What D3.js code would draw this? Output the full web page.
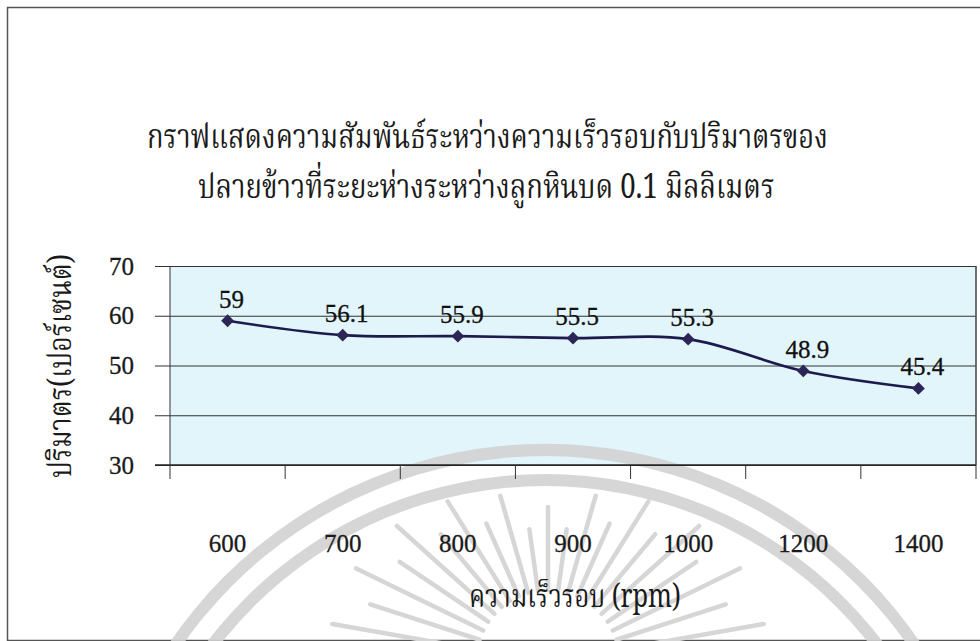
<!DOCTYPE html>
<html>
<head>
<meta charset="utf-8">
<script src="https://cdn.jsdelivr.net/npm/d3@7"></script>
<style>
  html, body { margin: 0; padding: 0; background: #fff; }
  svg { display: block; }
  .num { font-family: "Liberation Serif", "Times New Roman", serif; }
  .thai { font-family: "Noto Serif Thai", "Noto Sans Thai Looped", "Noto Sans Thai", "Loma", sans-serif; }
</style>
</head>
<body>
<svg id="chart" width="980" height="641"></svg>
<script>
// Rotation speed (rpm) and broken-rice volume (%) at 0.1 mm stone gap
const speeds = ["600", "700", "800", "900", "1000", "1200", "1400"];
const volumes = [59, 56.1, 55.9, 55.5, 55.3, 48.9, 45.4];
const yTicks = [30, 40, 50, 60, 70];
const titleLines = [
  "กราฟแสดงความสัมพันธ์ระหว่างความเร็วรอบกับปริมาตรของ",
  "ปลายข้าวที่ระยะห่างระหว่างลูกหินบด 0.1 มิลลิเมตร"
];
const xTitle = "ความเร็วรอบ (rpm)";
const yTitle = "ปริมาตร(เปอร์เซนต์)";

const W = 980, H = 641;
const plot = { left: 170, right: 976, top: 266, bottom: 465 };

const svg = d3.select("#chart");

const x = d3.scaleBand().domain(speeds).range([plot.left, plot.right]).padding(0);
const y = d3.scaleLinear().domain([30, 70]).range([plot.bottom, plot.top]);
const cxOf = s => x(s) + x.bandwidth() / 2;

// outer frame
svg.append("rect")
  .attr("x", 7.5).attr("y", 7.5).attr("width", W + 10).attr("height", H - 8)
  .attr("fill", "#fff").attr("stroke", "#555").attr("stroke-width", 1.5);

// plot background
svg.append("rect")
  .attr("x", plot.left).attr("y", plot.top)
  .attr("width", plot.right - plot.left).attr("height", plot.bottom - plot.top)
  .attr("fill", "#e2f5fb");

// faint seal watermark over the lower part of the page
const seal = svg.append("g").attr("fill", "none").attr("stroke", "#d6d6d6");
const sealCx = 545, sealCy = 898;
[448, 418].forEach(r => {
  seal.append("path")
    .attr("d", d3.arc()({ innerRadius: r - 6, outerRadius: r + 6, startAngle: -Math.PI / 2, endAngle: Math.PI / 2 }))
    .attr("transform", `translate(${sealCx},${sealCy})`)
    .attr("fill", "#d2d2d2").attr("stroke", "none").attr("opacity", 0.9);
});
const rayCenter = [548, 662];
d3.range(-80, 81, 8).forEach((deg, i) => {
  const a = deg * Math.PI / 180;
  const r0 = 72, r1 = (i % 2 ? 125 : 155) + 65 * Math.abs(Math.sin(a));
  seal.append("line")
    .attr("x1", rayCenter[0] + r0 * Math.sin(a)).attr("y1", rayCenter[1] - r0 * Math.cos(a))
    .attr("x2", rayCenter[0] + r1 * Math.sin(a)).attr("y2", rayCenter[1] - r1 * Math.cos(a))
    .attr("stroke-width", 4.5).attr("stroke-linecap", "round");
});

// horizontal gridlines with short outer ticks on the left
const yAxis = d3.axisLeft(y).tickValues(yTicks).tickSize(15).tickPadding(21).tickFormat(d3.format("d"));
const yg = svg.append("g").attr("transform", `translate(${plot.left},0)`).call(yAxis)
  .attr("font-family", null).attr("font-size", null);
yg.select(".domain").remove();
yg.selectAll(".tick line").attr("stroke", "#333").attr("stroke-width", 1.2)
  .attr("x1", plot.right - plot.left);
yg.selectAll(".tick text").attr("class", "num")
  .attr("font-size", 25).attr("fill", "#1a1a1a").attr("stroke", "#1a1a1a").attr("stroke-width", 0.3);

// plot right border
svg.append("line")
  .attr("x1", plot.right).attr("x2", plot.right).attr("y1", plot.top).attr("y2", plot.bottom)
  .attr("stroke", "#777").attr("stroke-width", 1.2);

// category axis: ticks at band edges, labels well below
const edges = speeds.map(s => x(s)).concat([plot.right]);
const xg = svg.append("g");
xg.append("line")
  .attr("x1", plot.left - 15).attr("x2", plot.right).attr("y1", plot.bottom).attr("y2", plot.bottom)
  .attr("stroke", "#222").attr("stroke-width", 1.5);
xg.selectAll("line.edge").data(edges).join("line").attr("class", "edge")
  .attr("x1", d => d).attr("x2", d => d)
  .attr("y1", (d, i) => (i === 0 || i === edges.length - 1) ? plot.top : plot.bottom)
  .attr("y2", plot.bottom + 14)
  .attr("stroke", "#333").attr("stroke-width", 1);
xg.selectAll("text").data(speeds).join("text").attr("class", "num")
  .attr("x", d => cxOf(d)).attr("y", 552)
  .attr("text-anchor", "middle")
  .attr("font-size", 25).attr("fill", "#1a1a1a").attr("stroke", "#1a1a1a").attr("stroke-width", 0.3)
  .text(d => d);

// smoothed series line
const line = d3.line()
  .x((d, i) => cxOf(speeds[i]))
  .y(d => y(d))
  .curve(d3.curveCatmullRom.alpha(0.5));
svg.append("path").datum(volumes)
  .attr("d", line).attr("fill", "none").attr("stroke", "#1d1a4d").attr("stroke-width", 2.6);

// diamond markers
svg.selectAll("path.marker").data(volumes).join("path").attr("class", "marker")
  .attr("d", d3.symbol(d3.symbolSquare, 82))
  .attr("transform", (d, i) => `translate(${cxOf(speeds[i])},${y(d)}) rotate(45)`)
  .attr("fill", "#2b2656");

// value labels
svg.selectAll("text.val").data(volumes).join("text").attr("class", "val num")
  .attr("x", (d, i) => cxOf(speeds[i]) + 4)
  .attr("y", d => y(d) - 13)
  .attr("text-anchor", "middle")
  .attr("font-size", 25).attr("fill", "#111").attr("stroke", "#111").attr("stroke-width", 0.3)
  .text(d => d);

// fit a text element horizontally between x0 and x1 by scaling its width
function fitText(sel, x0, x1, baseY) {
  const natural = sel.node().getComputedTextLength();
  const sx = (x1 - x0) / natural;
  sel.attr("transform", `translate(${x0},${baseY}) scale(${sx},1)`);
}

// title
const titleSpans = [[147, 828, 148], [198, 775, 198]];
titleLines.forEach((t, i) => {
  const [x0, x1, by] = titleSpans[i];
  const tx = svg.append("text").attr("class", "thai")
    .attr("font-size", 34).attr("fill", "#1a1a1a")
    .text(t);
  fitText(tx, x0, x1, by);
});

// axis titles
const xt = svg.append("text").attr("class", "thai")
  .attr("font-size", 32).attr("fill", "#1a1a1a")
  .text(xTitle);
fitText(xt, 469, 681, 607);

const yt = svg.append("text").attr("class", "thai")
  .attr("font-size", 32).attr("fill", "#1a1a1a")
  .text(yTitle);
{
  const natural = yt.node().getComputedTextLength();
  const sx = 224 / natural;
  yt.attr("transform", `translate(71,478) rotate(-90) scale(${sx},1)`);
}
</script>
</body>
</html>
